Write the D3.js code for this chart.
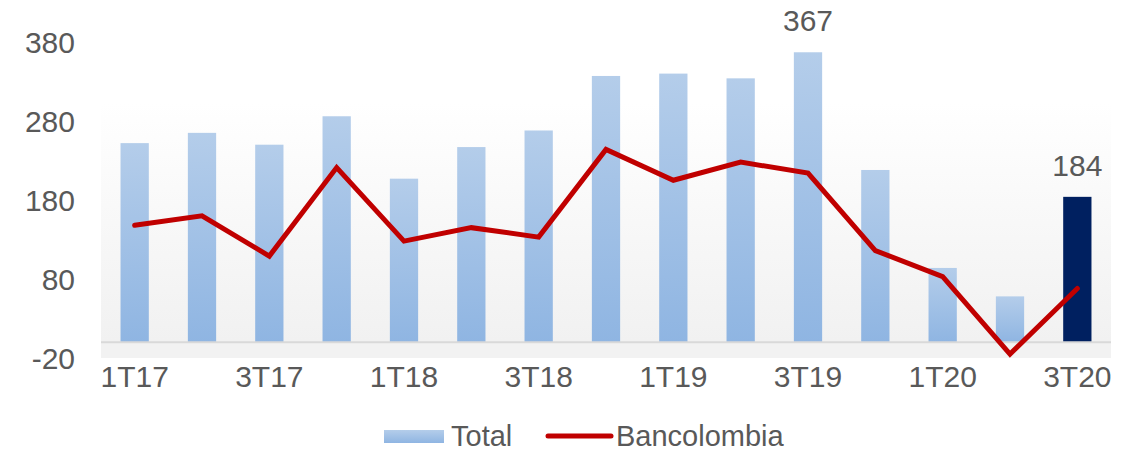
<!DOCTYPE html>
<html>
<head>
<meta charset="utf-8">
<script src="https://cdn.jsdelivr.net/npm/d3@7"></script>
<style>
  html, body { margin: 0; padding: 0; background: #ffffff; }
  svg { display: block; }
  text { font-family: "Liberation Sans", Arial, sans-serif; fill: #595959; }
</style>
</head>
<body>
<svg id="chart" width="1135" height="452"></svg>
<script>
const categories = ["1T17","2T17","3T17","4T17","1T18","2T18","3T18","4T18","1T19","2T19","3T19","4T19","1T20","2T20","3T20"];
const totalValues = [252, 265, 250, 286, 207, 247, 268, 337, 340, 334, 367, 218, 94, 58, 184];
const bancolombiaValues = [148, 160, 109, 221, 128, 145, 133, 244, 205, 228, 214, 116, 83, -15, 68];
const yTicks = [-20, 80, 180, 280, 380];
const xTickLabels = ["1T17","3T17","1T18","3T18","1T19","3T19","1T20","3T20"];
const labeledBars = ["3T19", "3T20"];
const highlightBar = "3T20";

const FONT = '"Liberation Sans", Arial, sans-serif';
const svg = d3.select("#chart");
const defs = svg.append("defs");

const bgGrad = defs.append("linearGradient").attr("id","bgGrad").attr("x1",0).attr("y1",0).attr("x2",0).attr("y2",1);
bgGrad.append("stop").attr("offset","0%").attr("stop-color","#ffffff");
bgGrad.append("stop").attr("offset","100%").attr("stop-color","#f0f0f0");

const barGrad = defs.append("linearGradient").attr("id","barGrad").attr("x1",0).attr("y1",0).attr("x2",0).attr("y2",1);
barGrad.append("stop").attr("offset","0%").attr("stop-color","#b4cdea");
barGrad.append("stop").attr("offset","100%").attr("stop-color","#8fb5e2");

const x = d3.scaleBand().domain(categories).range([101, 1111]).padding(0);
const y = d3.scaleLinear().domain([-20, 380]).range([358, 42]);

// plot background
svg.append("rect").attr("x", 101).attr("y", 103).attr("width", 1010).attr("height", y(-20) - 103)
  .attr("fill", "url(#bgGrad)");
svg.append("rect").attr("x", 101).attr("y", y(0)).attr("width", 1010).attr("height", y(-20) - y(0))
  .attr("fill", "#f2f2f2");

// bars
const barW = x.bandwidth() * 0.42;
svg.append("g").selectAll("rect").data(categories).join("rect")
  .attr("x", d => x(d) + (x.bandwidth() - barW) / 2)
  .attr("width", barW)
  .attr("y", (d, i) => y(totalValues[i]))
  .attr("height", (d, i) => y(0) - y(totalValues[i]))
  .attr("fill", d => d === highlightBar ? "#002060" : "url(#barGrad)");

// baseline
svg.append("line").attr("x1", 101).attr("x2", 1111).attr("y1", y(0)).attr("y2", y(0))
  .attr("stroke", "#d9d9d9").attr("stroke-width", 2);

// line
const line = d3.line().x((d, i) => x(categories[i]) + x.bandwidth() / 2).y(d => y(d));
svg.append("path").datum(bancolombiaValues).attr("d", line)
  .attr("fill", "none").attr("stroke", "#c00000").attr("stroke-width", 5)
  .attr("stroke-linejoin", "miter").attr("stroke-linecap", "round");

// data labels
svg.append("g").selectAll("text").data(labeledBars).join("text")
  .attr("x", d => x(d) + x.bandwidth() / 2)
  .attr("y", d => y(totalValues[categories.indexOf(d)]) - 21)
  .attr("text-anchor", "middle").attr("font-size", 30)
  .text(d => totalValues[categories.indexOf(d)]);

// y axis
const yAxis = d3.axisLeft(y).tickValues(yTicks).tickSize(0).tickPadding(0).tickFormat(d => String(d));
const yg = svg.append("g").attr("transform", "translate(75,0)").call(yAxis);
yg.select(".domain").remove();
yg.selectAll("text").attr("font-size", 30).attr("fill", "#595959").attr("dy", "0.36em")
  .style("font-family", FONT);

// x axis
const xAxis = d3.axisBottom(x).tickValues(xTickLabels).tickSize(0).tickPadding(0);
const xg = svg.append("g").attr("transform", "translate(0,366)").call(xAxis);
xg.select(".domain").remove();
xg.selectAll("text").attr("font-size", 30).attr("fill", "#595959").attr("dy", "0.71em")
  .style("font-family", FONT);

// legend
const lg = svg.append("g");
lg.append("rect").attr("x", 384).attr("y", 430).attr("width", 60).attr("height", 13).attr("fill", "url(#barGrad)");
lg.append("text").attr("x", 451).attr("y", 446).attr("font-size", 29).text("Total");
lg.append("line").attr("x1", 548).attr("x2", 611).attr("y1", 436).attr("y2", 436)
  .attr("stroke", "#c00000").attr("stroke-width", 5).attr("stroke-linecap", "round");
lg.append("text").attr("x", 616).attr("y", 446).attr("font-size", 29).text("Bancolombia");
</script>
</body>
</html>
